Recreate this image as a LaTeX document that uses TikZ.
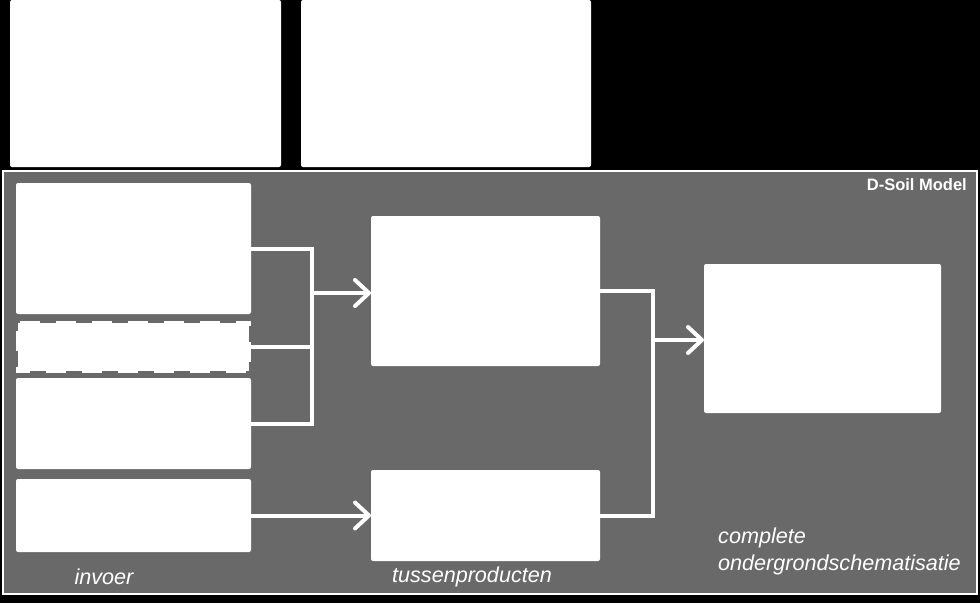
\documentclass[tikz,border=0pt]{standalone}
\usepackage{fontspec}
\setmainfont{Liberation Sans}
\usetikzlibrary{arrows.meta}
\definecolor{panelgray}{RGB}{105,105,105}
\tikzset{
  box/.style={fill=white, rounded corners=2pt, inner sep=0pt, outer sep=0pt},
  conn/.style={draw=white, line width=4pt, line join=miter},
  arr/.style={conn, -{Straight Barb[length=14pt, width=26pt, line cap=round, line join=round]}},
  lbl/.style={text=white, font=\itshape\fontsize{21.6}{24}\selectfont, inner sep=0pt}
}
\begin{document}
\begin{tikzpicture}[x=1pt, y=-1pt]
\fill[black] (0,0) rectangle (980,603);
\useasboundingbox (0,0) rectangle (980,603);
% top boxes
\node[box, minimum width=271pt, minimum height=167pt] (T1) at (145.5,83.5) {};
\node[box, minimum width=290pt, minimum height=167pt] (T2) at (446,83.5) {};
% panel
\node[fill=panelgray, draw=white, line width=2.5pt, minimum width=974pt, minimum height=423pt, inner sep=0pt] (P) at (490,382.5) {};
\node[anchor=east, text=white, font=\bfseries\fontsize{16.5}{18}\selectfont, inner sep=0pt] (title) at (967,185) {D-Soil Model};
% input boxes
\node[box, minimum width=235pt, minimum height=131pt] (A) at (133.5,248.5) {};
\node[box, minimum width=235pt, minimum height=52pt, rounded corners=0pt] (B) at (133.5,347) {};
\draw[panelgray, line width=4pt, dash pattern=on 16pt off 20pt, dash phase=6pt] (B.north west) rectangle (B.south east);
\node[box, minimum width=235pt, minimum height=91pt] (C) at (133.5,423.5) {};
\node[box, minimum width=235pt, minimum height=73pt] (D) at (133.5,515.5) {};
% intermediate
\node[box, minimum width=229pt, minimum height=150pt] (E) at (485.5,291) {};
\node[box, minimum width=229pt, minimum height=91pt] (F) at (485.5,515.5) {};
% result
\node[box, minimum width=237pt, minimum height=149pt] (G) at (822.5,338.5) {};
% connectors
\coordinate (j1) at (312,293);
\coordinate (j2) at (653,340);
\draw[conn] (A.east) -- (A.east -| j1) -- (C.east -| j1) -- (C.east);
\draw[conn] (B.east) -- (B.east -| j1);
\draw[arr] (j1) -- (j1 -| E.west);
\draw[arr] (D.east) -- (F.west);
\draw[conn] (E.east) -- (E.east -| j2) -- (F.east -| j2) -- (F.east);
\draw[arr] (j2) -- (j2 -| G.west);
% labels
\node[lbl] (l1) at (104,577) {invoer};
\node[lbl] (l2) at (472,577) {tussenproducten};
\node[lbl, anchor=west] (l3) at (718,538) {complete};
\node[lbl, anchor=west] (l4) at (718,565) {ondergrondschematisatie};
\end{tikzpicture}
\end{document}
